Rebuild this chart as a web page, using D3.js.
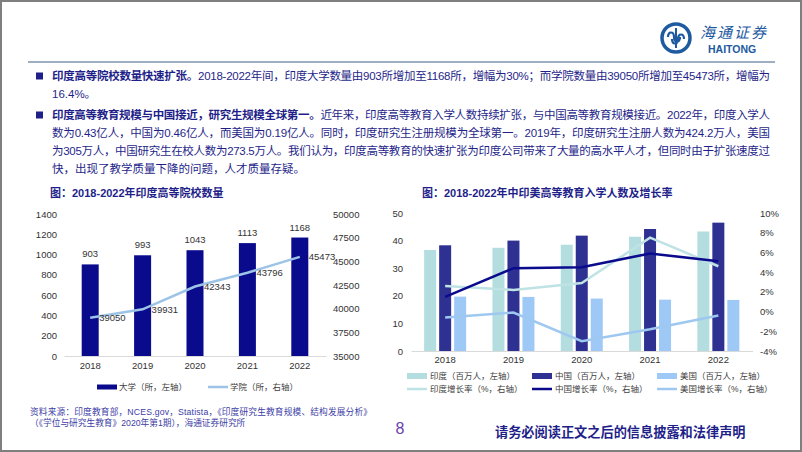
<!DOCTYPE html>
<html><head><meta charset="utf-8">
<script src="https://cdn.jsdelivr.net/npm/d3@7"></script>
<style>body{margin:0;background:#fff}svg{display:block}</style>
</head><body>
<script>
// ---------------- DATA ----------------
const years = ["2018","2019","2020","2021","2022"];
const universities = [903, 993, 1043, 1113, 1168];
const colleges = [39050, 39931, 42343, 43796, 45473];
const leftTicksL = [0,200,400,600,800,1000,1200,1400];
const leftTicksR = [35000,37500,40000,42500,45000,47500,50000];

const indiaEnroll = [36.6, 37.4, 38.5, 41.4, 43.3];
const chinaEnroll = [38.3, 40.0, 41.8, 44.2, 46.5];
const usEnroll = [19.7, 19.6, 19.0, 18.6, 18.5];
const indiaGrowth = [2.6, 2.2, 2.9, 7.5, 4.6];
const chinaGrowth = [1.5, 4.4, 4.5, 5.9, 5.1];
const usGrowth = [-0.6, -0.1, -3.0, -1.8, -0.4];
const rightTicksL = [0,10,20,30,40,50];
const rightTicksR = [-4,-2,0,2,4,6,8,10];

const NAVY = "#1f1f8a";
const FONT = "'Liberation Sans', Arial, 'Noto Sans CJK SC', sans-serif";
const fmtInt = d3.format("d");

const svg = d3.select("body").append("svg").attr("width",802).attr("height",452)
  .style("font-family", FONT);

// frame
svg.append("rect").attr("x",1).attr("y",1).attr("width",800).attr("height",450)
  .attr("fill","#fff").attr("stroke","#7f7f7f").attr("stroke-width",2);

// header line
svg.append("line").attr("x1",28).attr("x2",775).attr("y1",62).attr("y2",62)
  .attr("stroke","#8093b0").attr("stroke-width",1.5);

// logo
const logo = svg.append("g").attr("transform","translate(676,38)");
logo.append("circle").attr("r",14).attr("fill","none").attr("stroke","#1e5aa0").attr("stroke-width",3.5);
logo.append("path").attr("d","M-8,-1 C-8,-7 -2,-7 -2,-1 C-2,5 4,5 4,-1 M-4,1 C-4,7 2,7 2,1 C2,-5 8,-5 8,1")
  .attr("fill","none").attr("stroke","#1e5aa0").attr("stroke-width",2.2);
logo.append("line").attr("x1",0).attr("x2",0).attr("y1",-10).attr("y2",10).attr("stroke","#1e5aa0").attr("stroke-width",2);
svg.append("text").attr("x",700).attr("y",38).text("海通证券")
  .attr("font-size",15).attr("font-style","italic").attr("letter-spacing",2)
  .attr("fill","#1e5aa0").style("font-family","'Noto Sans CJK SC'");
svg.append("text").attr("x",708).attr("y",52.5).text("HAITONG")
  .attr("font-size",10.5).attr("font-weight","bold").attr("fill","#1e5aa0");

// body text
function bodyLine(y, segs, justify){
  const t = svg.append("text").attr("x",52).attr("y",y).attr("font-size",11.5).attr("fill",NAVY);
  segs.forEach(s=>t.append("tspan").text(s[0]).attr("font-weight", s[1]?"bold":"normal"));
  if(justify){ t.attr("textLength",718).attr("lengthAdjust","spacing"); }
}
function bullet(y){ svg.append("rect").attr("x",36).attr("y",y-7.5).attr("width",7).attr("height",7).attr("fill",NAVY); }
bullet(80);
bodyLine(80, [["印度高等院校数量快速扩张。",true],["2018-2022年间，印度大学数量由903所增加至1168所，增幅为30%；而学院数量由39050所增加至45473所，增幅为",false]], true);
bodyLine(98, [["16.4%。",false]], false);
bullet(119);
bodyLine(119, [["印度高等教育规模与中国接近，研究生规模全球第一。",true],["近年来，印度高等教育入学人数持续扩张，与中国高等教育规模接近。2022年，印度入学人",false]], true);
bodyLine(137, [["数为0.43亿人，中国为0.46亿人，而美国为0.19亿人。同时，印度研究生注册规模为全球第一。2019年，印度研究生注册人数为424.2万人，美国",false]], true);
bodyLine(155, [["为305万人，中国研究生在校人数为273.5万人。我们认为，印度高等教育的快速扩张为印度公司带来了大量的高水平人才，但同时由于扩张速度过",false]], true);
bodyLine(173, [["快，出现了教学质量下降的问题，人才质量存疑。",false]], false);

// ---------------- LEFT CHART ----------------
svg.append("text").attr("x",50).attr("y",197).attr("font-size",11).attr("font-weight","bold")
  .attr("fill",NAVY).text("图：2018-2022年印度高等院校数量");

const x1 = d3.scaleBand().domain(years).range([64,326]);
const yL1 = d3.scaleLinear().domain([0,1400]).range([356,214]);
const yR1 = d3.scaleLinear().domain([35000,50000]).range([356,214]);
const BAR1 = "#0a0a8c", LINE1 = "#9dc3e6";
const axText = (g, size)=>g.selectAll("text").attr("font-size",size).attr("fill","#333").style("font-family",FONT);

svg.append("g").attr("transform","translate(60,0)")
  .call(d3.axisLeft(yL1).tickValues(leftTicksL).tickFormat(fmtInt).tickSize(0).tickPadding(3))
  .call(g=>g.select(".domain").remove()).call(g=>axText(g,9.5));
svg.append("g").attr("transform","translate(330,0)")
  .call(d3.axisRight(yR1).tickValues(leftTicksR).tickFormat(fmtInt).tickSize(0).tickPadding(3))
  .call(g=>g.select(".domain").remove()).call(g=>axText(g,9.5));
svg.append("g").attr("transform","translate(0,356)")
  .call(d3.axisBottom(x1).tickSize(0).tickSizeOuter(0).tickPadding(6))
  .call(g=>g.select(".domain").attr("stroke","#d9d9d9")).call(g=>axText(g,9.5));

const bw1 = 17;
svg.append("g").selectAll("rect").data(universities).join("rect")
  .attr("x",(d,i)=>x1(years[i])+x1.bandwidth()/2-bw1/2)
  .attr("y",d=>yL1(d)).attr("width",bw1).attr("height",d=>yL1(0)-yL1(d)).attr("fill",BAR1);
svg.append("g").selectAll("text").data(universities).join("text")
  .attr("x",(d,i)=>x1(years[i])+x1.bandwidth()/2).attr("y",d=>yL1(d)-7)
  .attr("text-anchor","middle").attr("font-size",9.5).attr("fill","#333").text(d=>d);

const cx1 = (d,i)=>x1(years[i])+x1.bandwidth()/2;
svg.append("path").datum(colleges)
  .attr("d", d3.line().x(cx1).y(d=>yR1(d)))
  .attr("fill","none").attr("stroke",LINE1).attr("stroke-width",2.5);
svg.append("g").selectAll("text").data(colleges).join("text")
  .attr("x",(d,i)=>cx1(d,i)+9).attr("y",d=>yR1(d)).attr("dy","0.35em")
  .attr("font-size",9.5).attr("fill","#333").text(d=>d);

// legend left
svg.append("rect").attr("x",97).attr("y",384.5).attr("width",20).attr("height",5).attr("fill",BAR1);
svg.append("text").attr("x",119).attr("y",387).attr("dy","0.35em").attr("font-size",8.5).attr("fill","#404040").text("大学（所，左轴）");
svg.append("line").attr("x1",208).attr("x2",228).attr("y1",387).attr("y2",387).attr("stroke",LINE1).attr("stroke-width",2.5);
svg.append("text").attr("x",230).attr("y",387).attr("dy","0.35em").attr("font-size",8.5).attr("fill","#404040").text("学院（所，右轴）");

// ---------------- RIGHT CHART ----------------
svg.append("text").attr("x",422).attr("y",197).attr("font-size",11).attr("font-weight","bold")
  .attr("fill",NAVY).text("图：2018-2022年中印美高等教育入学人数及增长率");

const x2 = d3.scaleBand().domain(years).range([411,752.5]);
const yL2 = d3.scaleLinear().domain([0,50]).range([351,213]);
const yR2 = d3.scaleLinear().domain([-4,10]).range([351,213]);
const C_IN = "#b4dde0", C_CN = "#2e3192", C_US = "#9ec8f5";
const L_IN = "#bfe2e4", L_CN = "#0a0a8c", L_US = "#9ec8f0";

svg.append("g").attr("transform","translate(406,0)")
  .call(d3.axisLeft(yL2).tickValues(rightTicksL).tickSize(0).tickPadding(3))
  .call(g=>g.select(".domain").remove()).call(g=>axText(g,9.5));
svg.append("g").attr("transform","translate(757,0)")
  .call(d3.axisRight(yR2).tickValues(rightTicksR).tickSize(0).tickPadding(3).tickFormat(d=>d+"%"))
  .call(g=>g.select(".domain").remove()).call(g=>axText(g,9.5));
svg.append("g").attr("transform","translate(0,351)")
  .call(d3.axisBottom(x2).tickSize(0).tickSizeOuter(0).tickPadding(5))
  .call(g=>g.select(".domain").attr("stroke","#d9d9d9")).call(g=>axText(g,9.5));

const bw2 = 12;
const cx2 = (d,i)=>x2(years[i])+x2.bandwidth()/2;
[[indiaEnroll,C_IN,-15],[chinaEnroll,C_CN,0],[usEnroll,C_US,15]].forEach(([arr,col,off])=>{
  svg.append("g").selectAll("rect").data(arr).join("rect")
    .attr("x",(d,i)=>cx2(d,i)+off-bw2/2).attr("y",d=>yL2(d))
    .attr("width",bw2).attr("height",d=>yL2(0)-yL2(d)).attr("fill",col);
});
[[indiaGrowth,L_IN],[usGrowth,L_US],[chinaGrowth,L_CN]].forEach(([arr,col])=>{
  svg.append("path").datum(arr).attr("d",d3.line().x(cx2).y(d=>yR2(d)))
    .attr("fill","none").attr("stroke",col).attr("stroke-width",2.5);
});

// legend right
const legItems = [
  ["rect",C_IN,"印度（百万人，左轴）",407,376],["rect",C_CN,"中国（百万人，左轴）",532,376],["rect",C_US,"美国（百万人，左轴）",657,376],
  ["line",L_IN,"印度增长率（%，右轴）",407,389],["line",L_CN,"中国增长率（%，右轴）",532,389],["line",L_US,"美国增长率（%，右轴）",657,389]
];
legItems.forEach(([type,col,label,x,y])=>{
  if(type==="rect") svg.append("rect").attr("x",x).attr("y",y-3).attr("width",20).attr("height",6).attr("fill",col);
  else svg.append("line").attr("x1",x).attr("x2",x+20).attr("y1",y).attr("y2",y).attr("stroke",col).attr("stroke-width",2.5);
  svg.append("text").attr("x",x+23).attr("y",y).attr("dy","0.35em").attr("font-size",8.5).attr("fill","#404040").text(label);
});

// ---------------- FOOTER ----------------
svg.append("text").attr("x",30).attr("y",415).attr("font-size",8.7).attr("fill","#3d3da6")
  .attr("textLength",342).attr("lengthAdjust","spacing")
  .text("资料来源：印度教育部，NCES.gov，Statista，《印度研究生教育规模、结构发展分析》");
svg.append("text").attr("x",30).attr("y",426).attr("font-size",8.7).attr("fill","#3d3da6")
  .text("（《学位与研究生教育》2020年第1期），海通证券研究所");
svg.append("text").attr("x",400).attr("y",434).attr("text-anchor","middle").attr("font-size",16).attr("fill","#6a3fb0").text("8");
svg.append("text").attr("x",495).attr("y",437).attr("font-size",13.2).attr("font-weight","bold").attr("fill",NAVY)
  .text("请务必阅读正文之后的信息披露和法律声明");
</script>
</body></html>
